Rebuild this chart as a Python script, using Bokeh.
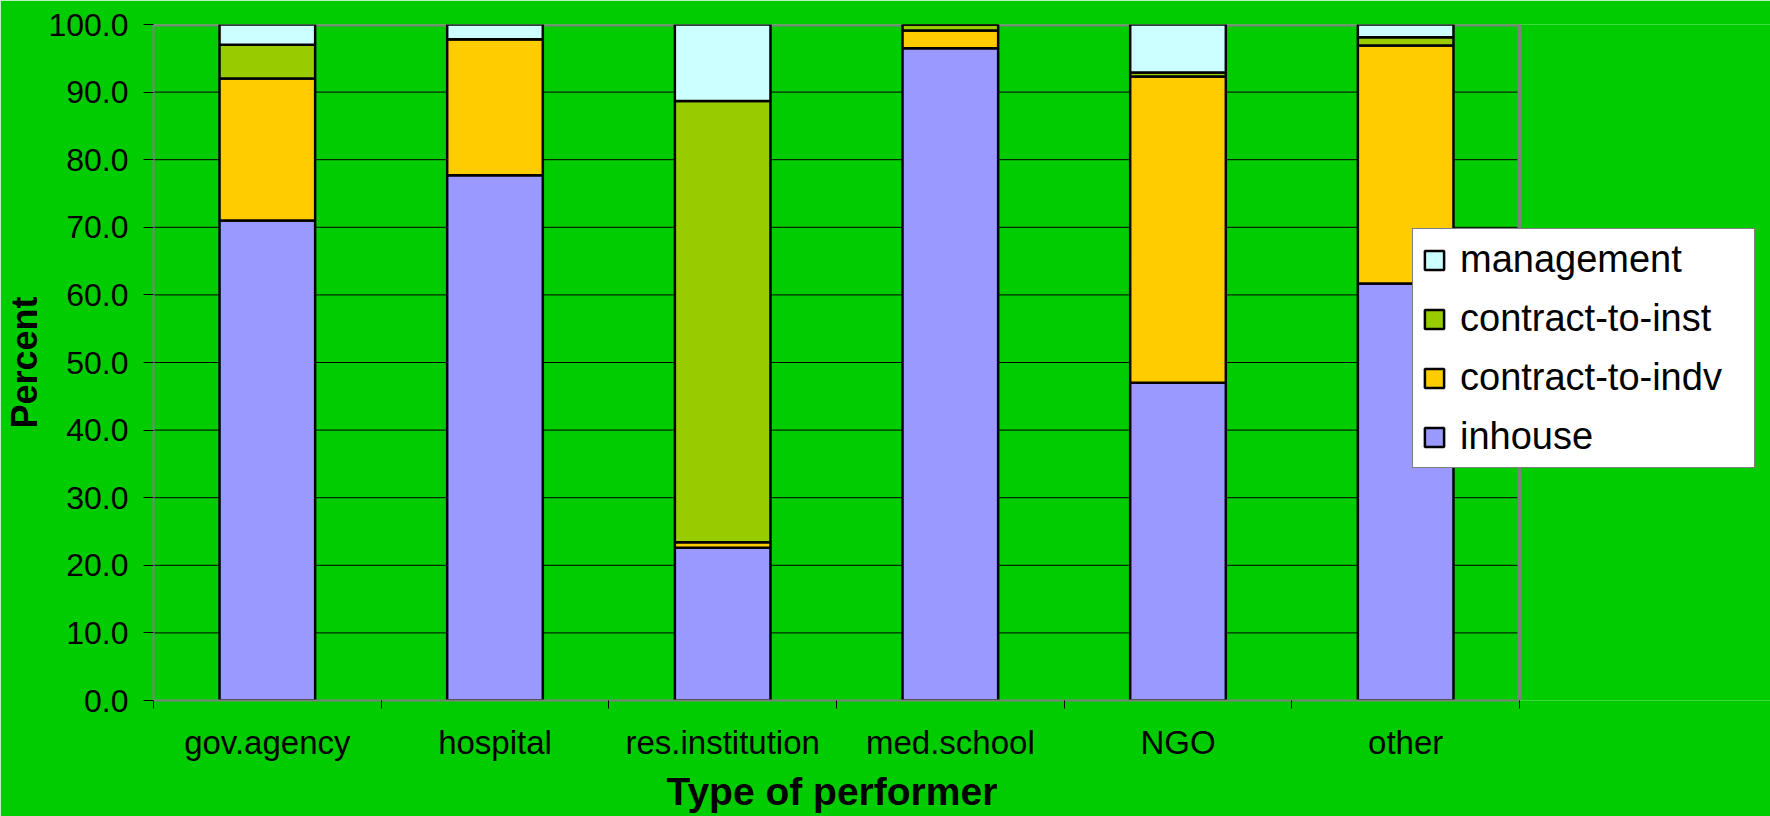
from bokeh.plotting import figure
from bokeh.models import (ColumnDataSource, FixedTicker, Range1d, Legend, LegendItem,
                          NumeralTickFormatter, Title)
from bokeh.embed import file_html
from bokeh.resources import INLINE

# Share of R&D expenditure by mode of performance, per type of performer (%)
performers = ["gov.agency", "hospital", "res.institution", "med.school", "NGO", "other"]
inhouse = [71.0, 77.7, 22.6, 96.5, 47.0, 61.7]
contract_to_indv = [21.0, 20.1, 0.8, 2.6, 45.3, 35.2]
contract_to_inst = [5.0, 0.0, 65.3, 0.9, 0.6, 1.2]
management = [3.0, 2.2, 11.3, 0.0, 7.1, 1.9]

series = ["inhouse", "contract-to-indv", "contract-to-inst", "management"]
colors = ["#9999FF", "#FFCC00", "#99CC00", "#CCFFFF"]
y_ticks = [0, 10, 20, 30, 40, 50, 60, 70, 80, 90, 100]

FONT = "Liberation Sans"
BG = "#00CC00"
FRAME_GRAY = "#808080"

n = len(performers)
xs = [i + 0.5 for i in range(n)]
source = ColumnDataSource(data={
    "x": xs,
    "inhouse": inhouse,
    "contract-to-indv": contract_to_indv,
    "contract-to-inst": contract_to_inst,
    "management": management,
})

# The drawing area runs to the right edge of the canvas so the legend can sit
# across the plot border; the plot box itself spans x = 0..n.
LEFT, PLOT_W, TOTAL_W = 153, 1366, 1770
x_end = n * (TOTAL_W - LEFT) / PLOT_W

p = figure(width=TOTAL_W, height=816, output_backend="svg", toolbar_location=None,
           x_range=Range1d(0, x_end), y_range=Range1d(0, y_ticks[-1]),
           min_border_left=LEFT, min_border_right=0, min_border_top=24,
           min_border_bottom=116)
p.background_fill_color = BG
p.border_fill_color = BG
p.outline_line_color = None

# horizontal grid lines inside the plot box
grid_y = y_ticks[1:-1]
p.segment(x0=[0] * len(grid_y), x1=[n] * len(grid_y), y0=grid_y, y1=grid_y,
          line_color="black", line_width=1, level="underlay")

# top and right sides of the plot box
p.line(x=[0, n, n], y=[y_ticks[-1], y_ticks[-1], 0], line_color=FRAME_GRAY,
       line_width=4, level="underlay")

renderers = p.vbar_stack(series, x="x", width=0.42, source=source, color=colors,
                         line_color="black", line_width=2.5)

# y axis
yax = p.yaxis[0]
yax.ticker = FixedTicker(ticks=y_ticks)
yax.formatter = NumeralTickFormatter(format="0.0")
yax.axis_line_color = FRAME_GRAY
yax.axis_line_width = 2
yax.major_tick_in = 0
yax.major_tick_out = 10
yax.major_tick_line_color = "black"
yax.minor_tick_line_color = None
yax.major_label_text_font = FONT
yax.major_label_text_font_size = "32px"
yax.major_label_text_color = "black"
yax.major_label_standoff = 15
yax.axis_label = "Percent"
yax.axis_label_text_font = FONT
yax.axis_label_text_font_style = "bold"
yax.axis_label_text_font_size = "36px"
yax.axis_label_text_color = "black"
yax.axis_label_standoff = 0

# x axis: labels at bar centres, tick marks between categories
xax = p.xaxis[0]
xax.bounds = (0, n)
xax.ticker = FixedTicker(ticks=xs, minor_ticks=list(range(n + 1)))
xax.major_label_overrides = {x: name for x, name in zip(xs, performers)}
xax.axis_line_color = FRAME_GRAY
xax.axis_line_width = 2
xax.major_tick_in = 0
xax.major_tick_out = 0
xax.minor_tick_in = 0
xax.minor_tick_out = 8
xax.minor_tick_line_color = "black"
xax.major_label_text_font = FONT
xax.major_label_text_font_size = "33px"
xax.major_label_text_color = "black"
xax.major_label_standoff = 15

# x-axis title, centred under the plot box rather than the whole drawing area
xtitle = Title(text="Type of performer", align="left", offset=513, standoff=8,
               text_font=FONT, text_font_style="bold", text_font_size="39px",
               text_color="black")
p.add_layout(xtitle, "below")

p.xgrid.visible = False
p.ygrid.visible = False

items = [LegendItem(label=name, renderers=[r]) for name, r in zip(series, renderers)]
legend = Legend(items=items[::-1], location=(1259, 232))
legend.background_fill_color = "white"
legend.background_fill_alpha = 1
legend.border_line_color = "black"
legend.border_line_width = 1
legend.label_text_font = FONT
legend.label_text_font_size = "38px"
legend.label_text_color = "black"
legend.glyph_width = 24
legend.glyph_height = 24
legend.label_standoff = 14
legend.label_width = 285
legend.label_height = 42
legend.spacing = 16
legend.padding = 9
legend.margin = 0
p.add_layout(legend, "center")

open("out.html", "w").write(file_html(p, INLINE))
